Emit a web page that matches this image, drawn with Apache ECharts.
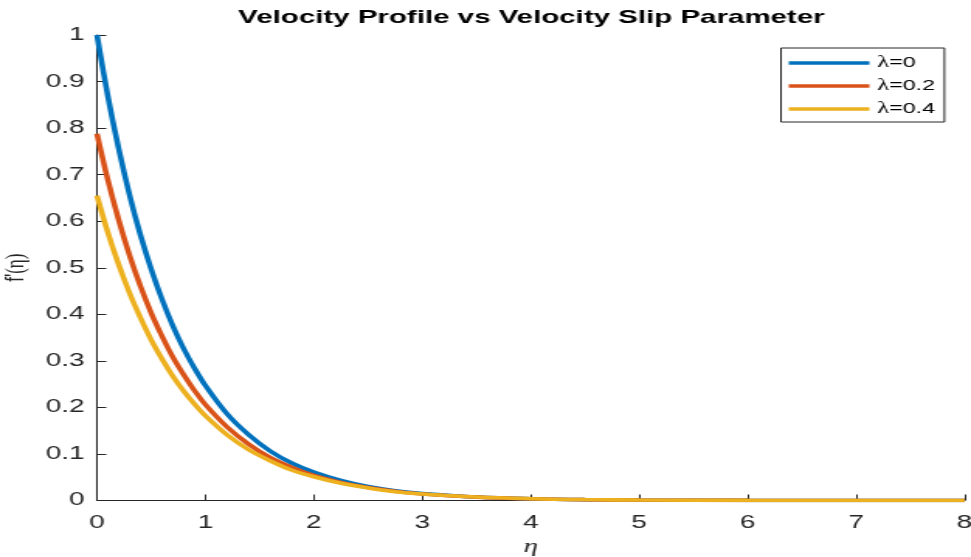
<!DOCTYPE html>
<html><head><meta charset="utf-8">
<script src="https://cdn.jsdelivr.net/npm/echarts@6/dist/echarts.min.js"></script>
<style>
html,body{margin:0;padding:0;background:#fff;overflow:hidden;width:971px;height:557px}
#wrap{width:971px;height:557px;overflow:hidden;position:relative;background:#fff}
#chart{width:626px;height:557px;transform:scaleX(1.5511);transform-origin:0 0;position:absolute;left:0;top:0}
</style></head><body><div id="wrap"><div id="chart"></div></div>
<script>
// η sample points
const eta = [0,0.1,0.2,0.3,0.4,0.5,0.6,0.7,0.8,0.9,1.0,1.2,1.4,1.6,1.8,2.0,2.25,2.5,2.75,3.0,3.5,4.0,4.5,5.0,6.0,7.0,8.0];
// f'(η)
const lambda0  = [1,0.869,0.756,0.657,0.571,0.497,0.432,0.375,0.326,0.284,0.247,0.186,0.141,0.106,0.080,0.061,0.043,0.030,0.021,0.015,0.0074,0.0037,0.0018,0.0009,0.0002,0.0001,0];
const lambda02 = [0.788,0.689,0.603,0.527,0.461,0.403,0.353,0.308,0.270,0.236,0.206,0.158,0.121,0.092,0.071,0.054,0.039,0.028,0.020,0.014,0.0072,0.0037,0.0019,0.0010,0.0002,0.0001,0];
const lambda04 = [0.655,0.576,0.507,0.446,0.393,0.345,0.304,0.267,0.235,0.207,0.182,0.141,0.109,0.085,0.065,0.051,0.037,0.027,0.019,0.014,0.0074,0.0039,0.0020,0.0011,0.0003,0.0001,0];
const seriesNames = ['λ=0','λ=0.2','λ=0.4'];
const seriesColors = ['#0072BD','#D95319','#EDB120'];
const titleText = 'Velocity Profile vs Velocity Slip Parameter';

const pairs = arr => eta.map((e,i)=>[e, arr[i]]);
const chart = echarts.init(document.getElementById('chart'), null, {renderer:'canvas'});
const axisCol = '#262626';
const mk = (name, arr, col) => ({
  name, type:'line', data: pairs(arr), showSymbol:false, smooth:0.35,
  lineStyle:{color:col, width:3.6}, itemStyle:{color:col}
});
chart.setOption({
  animation:false,
  backgroundColor:'#fff',
  title:{
    text:titleText, left:342.6, textAlign:'center', top:8, padding:0,
    textStyle:{fontFamily:'Liberation Sans', fontWeight:'bold', fontSize:19, color:'#000'}
  },
  legend:{
    orient:'vertical', left:503.5, top:48,
    padding:[5,6,3,5], itemGap:3, itemWidth:52, itemHeight:3.5, icon:'rect',
    borderColor:'#262626', borderWidth:1, backgroundColor:'#fff',
    formatter: n => '{l|λ}' + n.slice(1),
    textStyle:{fontFamily:'Liberation Sans', fontSize:15, color:'#000', lineHeight:20,
      rich:{l:{fontFamily:'Liberation Serif', fontSize:16, lineHeight:20}}},
    data: seriesNames
  },
  grid:{left:62.5, right:4.2, top:35, bottom:56.5, containLabel:false, outerBoundsMode:'none'},
  xAxis:{
    type:'value', min:0, max:8, interval:1,
    name:'η', nameLocation:'middle', nameGap:34,
    nameTextStyle:{fontFamily:'Liberation Serif', fontStyle:'italic', fontSize:19, color:axisCol},
    axisLine:{show:true, onZero:false, lineStyle:{color:axisCol, width:1}},
    axisTick:{show:true, inside:true, length:6, lineStyle:{color:axisCol, width:1}},
    axisLabel:{fontFamily:'Liberation Sans', fontSize:18, color:axisCol, margin:14},
    splitLine:{show:false}
  },
  yAxis:{
    type:'value', min:0, max:1, interval:0.1,
    name:"{a|f'}{b|(η)}", nameLocation:'middle', nameGap:38, nameRotate:90,
    nameTextStyle:{color:axisCol, rich:{
      a:{fontFamily:'Liberation Sans', fontSize:17, color:axisCol, lineHeight:18},
      b:{fontFamily:'Liberation Serif', fontSize:17, color:axisCol, lineHeight:18}}},
    axisLine:{show:true, onZero:false, lineStyle:{color:axisCol, width:1}},
    axisTick:{show:true, inside:true, length:6, lineStyle:{color:axisCol, width:1}},
    axisLabel:{fontFamily:'Liberation Sans', fontSize:18, color:axisCol, margin:8},
    splitLine:{show:false}
  },
  series:[
    mk(seriesNames[0], lambda0, seriesColors[0]),
    mk(seriesNames[1], lambda02, seriesColors[1]),
    mk(seriesNames[2], lambda04, seriesColors[2])
  ]
});
</script></body></html>
